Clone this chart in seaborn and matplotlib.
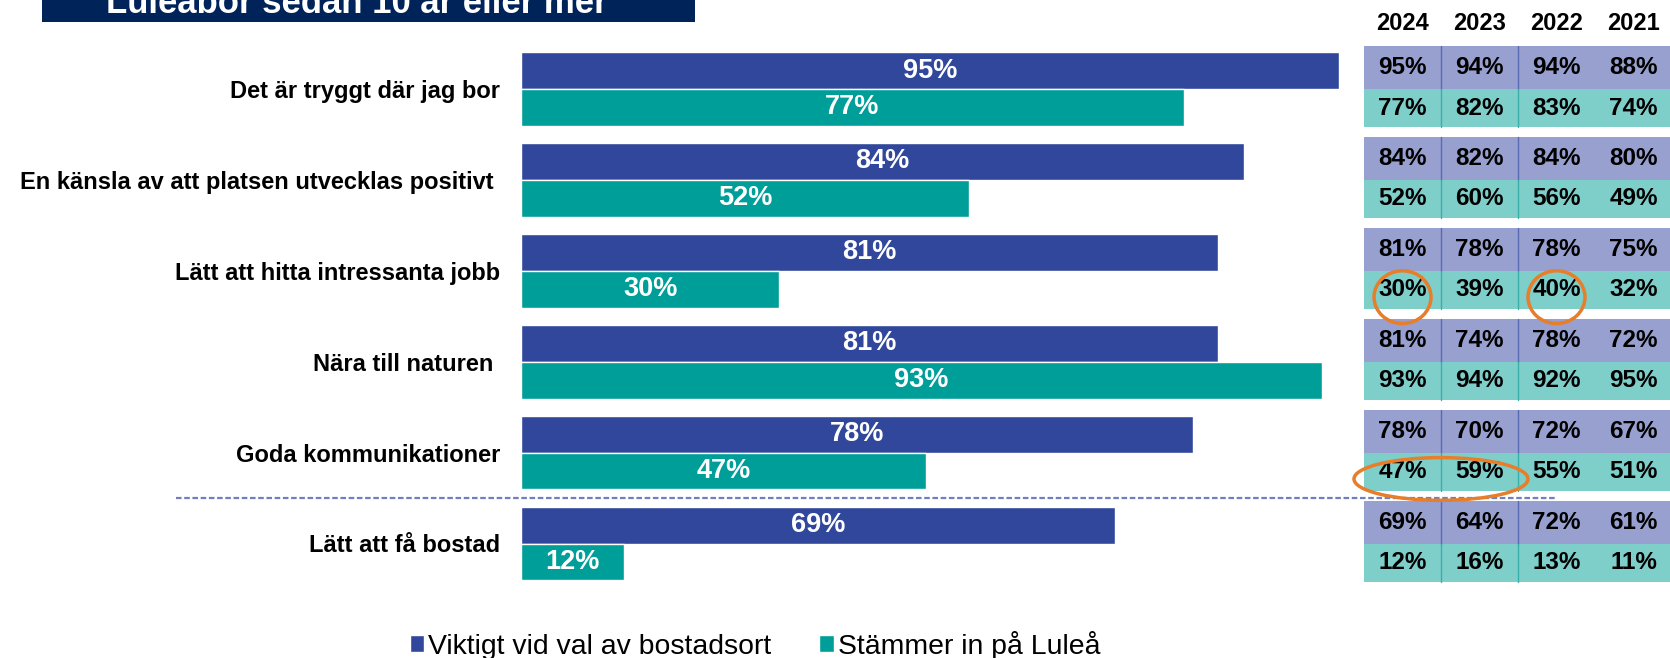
import matplotlib
matplotlib.use("Agg")
import matplotlib.pyplot as plt
import seaborn as sns
import pandas as pd
from matplotlib.patches import Rectangle, Ellipse

# ---------------- data ----------------
categories = [
    "Det är tryggt där jag bor",
    "En känsla av att platsen utvecklas positivt ",
    "Lätt att hitta intressanta jobb",
    "Nära till naturen ",
    "Goda kommunikationer",
    "Lätt att få bostad",
]
series_names = ["Viktigt vid val av bostadsort", "Stämmer in på Luleå"]
viktigt_2024 = [95, 84, 81, 81, 78, 69]
stammer_2024 = [77, 52, 30, 93, 47, 12]

years = ["2024", "2023", "2022", "2021"]
viktigt_2023 = [94, 82, 78, 74, 70, 64]
viktigt_2022 = [94, 84, 78, 78, 72, 72]
viktigt_2021 = [88, 80, 75, 72, 67, 61]
stammer_2023 = [82, 60, 39, 94, 59, 16]
stammer_2022 = [83, 56, 40, 92, 55, 13]
stammer_2021 = [74, 49, 32, 95, 51, 11]

# highlighted table cells: (category index, first year index, last year index)
highlights = [(2, 0, 0), (2, 2, 2), (4, 0, 1)]

title = "Luleåbor sedan 10 år eller mer"

# ---------------- style ----------------
sns.set_style("white")
plt.rcParams["font.family"] = ["Liberation Sans", "DejaVu Sans"]
plt.rcParams["text.color"] = "black"

BLUE = "#30479B"
TEAL = "#009E99"
T_PURPLE = "#97A0CE"
T_TEAL = "#7ECECA"
NAVY = "#00245A"
ORANGE = "#E87D2A"

W, H = 1670, 658
fig = plt.figure(figsize=(W / 100, H / 100), dpi=100)

# vertical layout (pixels from top): category 0 centre at 89, spacing 90.9
ylo, yhi = -0.6, 5.6
top_px = 89 + ylo * 90.9
bot_px = 89 + yhi * 90.9
ax_bottom = (H - bot_px) / H
ax_height = (bot_px - top_px) / H

ax = fig.add_axes([521 / W, ax_bottom, 861 / W, ax_height])

df = pd.DataFrame({
    "kategori": categories * 2,
    "serie": [series_names[0]] * len(categories) + [series_names[1]] * len(categories),
    "värde": viktigt_2024 + stammer_2024,
})
sns.barplot(data=df, y="kategori", x="värde", hue="serie", hue_order=series_names,
            palette=[BLUE, TEAL], width=0.81, orient="h", ax=ax, legend=False,
            saturation=1, errorbar=None)

for cont in ax.containers:
    ax.bar_label(cont, labels=[f"{v:.0f}%" for v in cont.datavalues],
                 label_type="center", color="white", fontsize=19.5, fontweight="bold")

ax.set_xlim(0, 100)
ax.set_ylim(yhi, ylo)
ax.set_xlabel("")
ax.set_ylabel("")
ax.set_xticks([])
for s in ax.spines.values():
    s.set_visible(False)
ax.tick_params(axis="y", length=0, pad=15)
for lab in ax.get_yticklabels():
    lab.set_fontsize(17)
    lab.set_fontweight("bold")
    lab.set_color("black")

# dashed separator between last two categories
ax.plot([-40.1, 120.3], [4.5, 4.5], color="#6F7FC0", lw=1.6,
        ls=(0, (2.5, 1.2)), clip_on=False, zorder=5)

# ---------------- table ----------------
axt = fig.add_axes([1364 / W, ax_bottom, 308 / W, ax_height])
axt.set_xlim(0, 4)
axt.set_ylim(yhi, ylo)
axt.axis("off")

v_cols = [viktigt_2024, viktigt_2023, viktigt_2022, viktigt_2021]
s_cols = [stammer_2024, stammer_2023, stammer_2022, stammer_2021]
ph, th = 0.47, 0.42
for i in range(len(categories)):
    axt.add_patch(Rectangle((0, i - ph), 4, ph, facecolor=T_PURPLE, edgecolor="none", clip_on=False))
    axt.add_patch(Rectangle((0, i), 4, th, facecolor=T_TEAL, edgecolor="none", clip_on=False))
    for c in (1, 2):
        axt.plot([c, c], [i - ph, i], color="#5A6BB5", lw=1, clip_on=False)
        axt.plot([c, c], [i, i + th], color="#3AAFAA", lw=1, clip_on=False)
    for j in range(4):
        axt.text(j + 0.5, i - ph / 2, f"{v_cols[j][i]}%", ha="center", va="center",
                 fontsize=17.5, fontweight="bold", color="black", clip_on=False)
        axt.text(j + 0.5, i + th / 2, f"{s_cols[j][i]}%", ha="center", va="center",
                 fontsize=17.5, fontweight="bold", color="black", clip_on=False)

for j, yr in enumerate(years):
    axt.text(j + 0.5, ylo - 0.12, yr, ha="center", va="center",
             fontsize=17, fontweight="bold", color="black", clip_on=False)

for (ci, j0, j1) in highlights:
    cx = (j0 + j1 + 1) / 2
    cy = ci + th / 2 + 0.08
    if j0 == j1:
        w, h = 0.74, 0.58
    else:
        w, h = 2.26 * (j1 - j0 + 1) / 2, 0.47
    axt.add_patch(Ellipse((cx, cy), w, h, fill=False, edgecolor=ORANGE, lw=2.5,
                          clip_on=False, zorder=6))

# ---------------- title box ----------------
fig.patches.append(Rectangle((42 / W, (H - 22) / H), (695 - 42) / W, 22 / H,
                             transform=fig.transFigure, facecolor=NAVY,
                             edgecolor="none", zorder=0))
fig.text(357 / W, (H - 13) / H, title, ha="center", va="baseline",
         fontsize=25, fontweight="bold", color="white")

# ---------------- legend ----------------
handles = [Rectangle((0, 0), 1, 1, facecolor=BLUE), Rectangle((0, 0), 1, 1, facecolor=TEAL)]
leg = fig.legend(handles, series_names, loc="center", bbox_to_anchor=(755 / W, (H - 645) / H),
                 ncol=2, frameon=False, fontsize=20.4, handlelength=0.5, handleheight=0.5,
                 handletextpad=0.15, columnspacing=1.7, borderpad=0, borderaxespad=0)
for t in leg.get_texts():
    t.set_color("black")

fig.savefig("out.png", dpi=100)
